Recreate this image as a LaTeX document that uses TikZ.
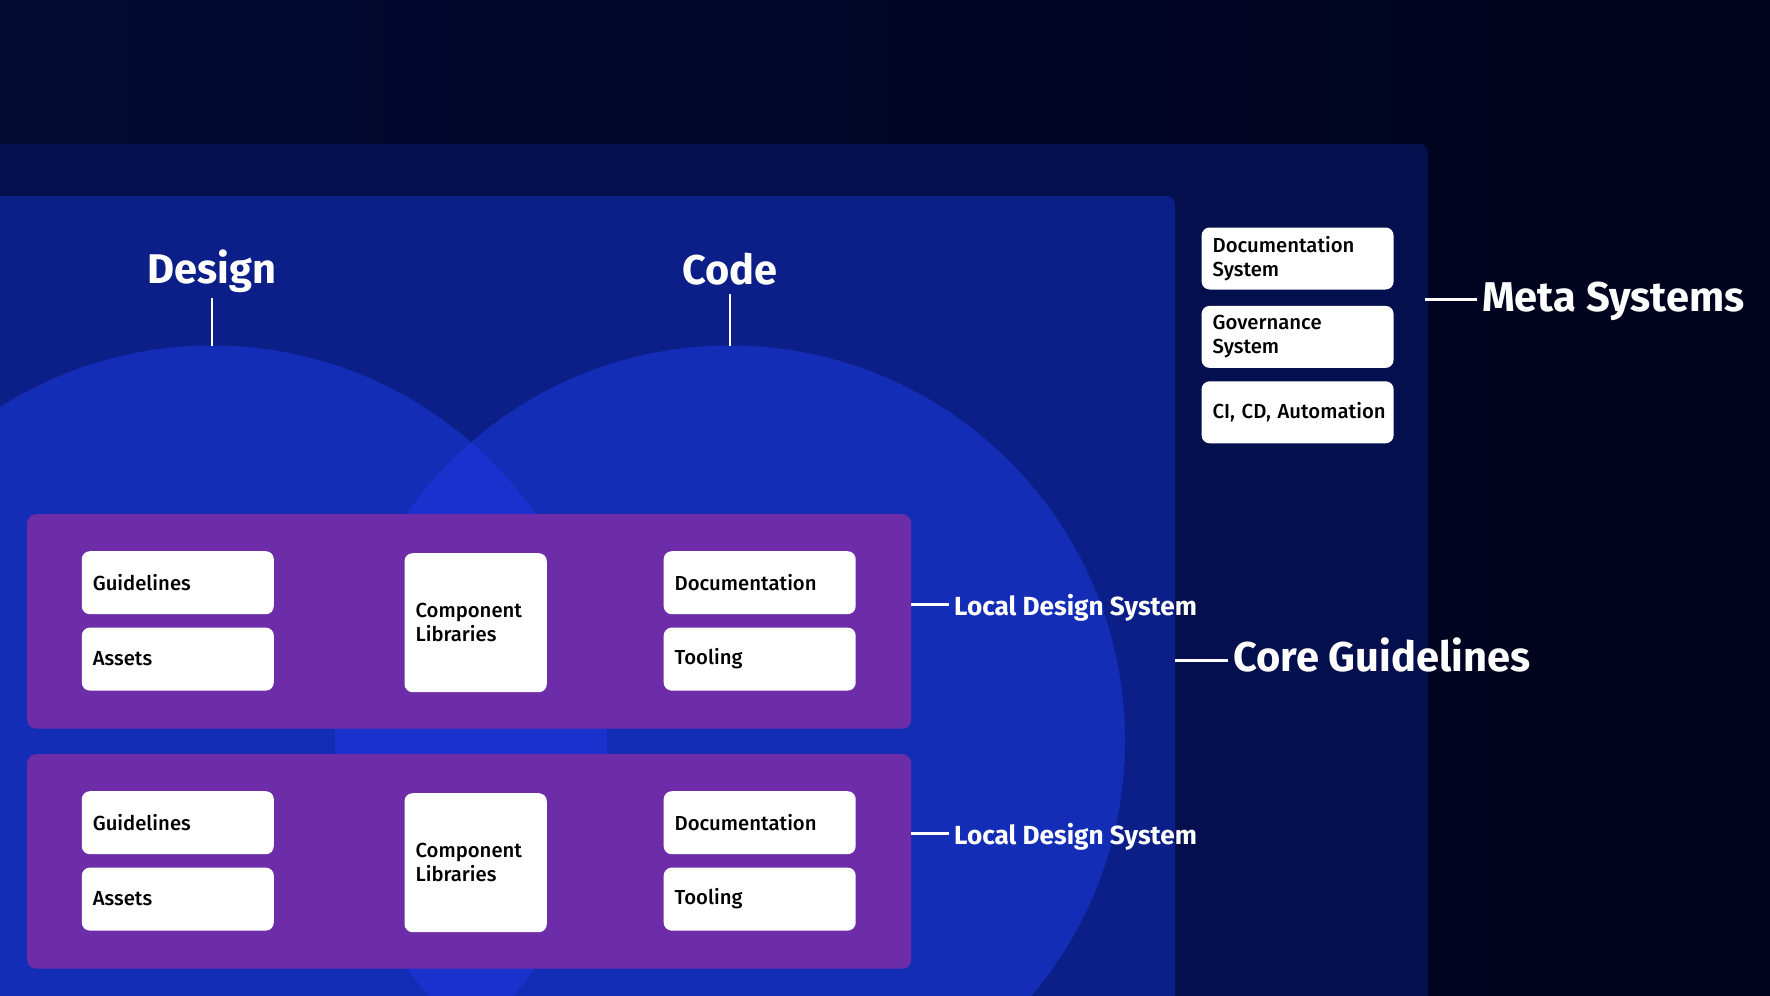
\documentclass[tikz,border=0pt]{standalone}
\usepackage{fontspec}
\setmainfont{Fira Sans}[UprightFont={* Medium},BoldFont={* Bold}]
\usetikzlibrary{positioning}
\definecolor{NightBlue}{RGB}{2,10,50}
\definecolor{DeepNavy}{RGB}{0,3,28}
\definecolor{MetaBlue}{RGB}{4,15,78}
\definecolor{CoreBlue}{RGB}{12,31,137}
\definecolor{CircleBlue}{RGB}{20,45,183}
\definecolor{LensBlue}{RGB}{25,50,205}
\definecolor{LocalPurple}{RGB}{110,45,168}

\begin{document}
\begin{tikzpicture}[x=1pt, y=-1pt, white, text=white,
	   every node/.style={font=\fontsize{20.3}{24}\selectfont},
	   itembox/.style 2 args = {fill=white, text=black, rounded corners=8pt,
	                            text width=#1, minimum height=#2,
	                            inner xsep=11pt, inner ysep=0pt, align=left},
	   band/.style = {fill=LocalPurple, rounded corners=9pt, inner sep=0pt,
	                  minimum width=884pt, minimum height=214.5pt},
	   tag/.style = {font=\bfseries\fontsize{#1}{#1}\selectfont, text=white,
	                 inner xsep=5pt, inner ysep=0pt}]
	%% Backdrop
	\useasboundingbox (0,0) rectangle (1770,996);
	\shade[left color=NightBlue, right color=DeepNavy] (0,0) rectangle (1770,996);

	%% Meta systems panel and core guidelines panel
	\fill[MetaBlue, rounded corners=8pt] (-20,1010) |- (1428,144) -- (1428,1010) -- cycle;
	\fill[CoreBlue, rounded corners=8pt] (-20,1010) |- (1175,196) -- (1175,1010) -- cycle;

	%% Design and code circles
	\coordinate (designc) at (212,740.5);
	\coordinate (codec) at (730,740.5);
	\fill[CircleBlue] (designc) circle[radius=395pt] (codec) circle[radius=395pt];
	\begin{scope}
	  \clip (designc) circle[radius=395pt];
	  \fill[LensBlue] (codec) circle[radius=395pt];
	\end{scope}

	%% Headings
	\node[tag=41.5, anchor=base] (design) at (212,283.5) {Design};
	\node[tag=41.5, anchor=base] (code) at (730,284.5) {Code};
	\coordinate (designtop) at (212,345.5);
	\coordinate (codetop) at (730,345.5);
	\draw[line width=2.6pt, shorten <=14pt] (design.base) -- (designtop);
	\draw[line width=2.6pt, shorten <=9pt] (code.base) -- (codetop);

	%% Local design systems
	\node[band, anchor=north west] (local1) at (27,514) {};
	\node[band, anchor=north west] (local2) at (27,754) {};

	\node[itembox={170pt}{63pt}, anchor=north west] (guide1) at (81.6,551) {Guidelines};
	\node[itembox={170pt}{63pt}, below=13pt of guide1] (assets1) {Assets};
	\node[itembox={120.3pt}{139pt}, anchor=north west] (comp1) at (404.3,553) {Component\\Libraries};
	\node[itembox={170pt}{63pt}, anchor=north west] (docs1) at (663.5,551) {Documentation};
	\node[itembox={170pt}{63pt}, below=13pt of docs1] (tools1) {Tooling};

	\node[itembox={170pt}{63pt}, anchor=north west] (guide2) at (81.6,791) {Guidelines};
	\node[itembox={170pt}{63pt}, below=13pt of guide2] (assets2) {Assets};
	\node[itembox={120.3pt}{139pt}, anchor=north west] (comp2) at (404.3,793) {Component\\Libraries};
	\node[itembox={170pt}{63pt}, anchor=north west] (docs2) at (663.5,791) {Documentation};
	\node[itembox={170pt}{63pt}, below=13pt of docs2] (tools2) {Tooling};

	\coordinate (lds1edge) at (911,604);
	\coordinate (lds2edge) at (911,833.3);
	\node[tag=26.2, anchor=base west] (lds1) at (949,615) {Local Design System};
	\node[tag=26.2, anchor=base west] (lds2) at (949,844) {Local Design System};
	\draw[line width=3pt] (lds1edge) -- (lds1edge -| lds1.west);
	\draw[line width=3pt] (lds2edge) -- (lds2edge -| lds2.west);

	%% Meta systems
	\node[itembox={170pt}{62pt}, anchor=north west] (docsys) at (1201.4,227.3) {Documentation\\System};
	\node[itembox={170pt}{62pt}, below=16pt of docsys] (govsys) {Governance\\System};
	\node[itembox={170pt}{62pt}, below=13pt of govsys] (cicd) {\mbox{CI, CD, Automation}};

	%% Side labels
	\coordinate (metaedge) at (1425,299);
	\coordinate (coreedge) at (1175,660);
	\node[tag=41.6, anchor=base west] (meta) at (1477,311.7) {Meta Systems};
	\node[tag=41.6, anchor=base west] (core) at (1228,671.7) {Core Guidelines};
	\draw[line width=3pt] (metaedge) -- (metaedge -| meta.west);
	\draw[line width=3pt] (coreedge) -- (coreedge -| core.west);
\end{tikzpicture}
\end{document}
